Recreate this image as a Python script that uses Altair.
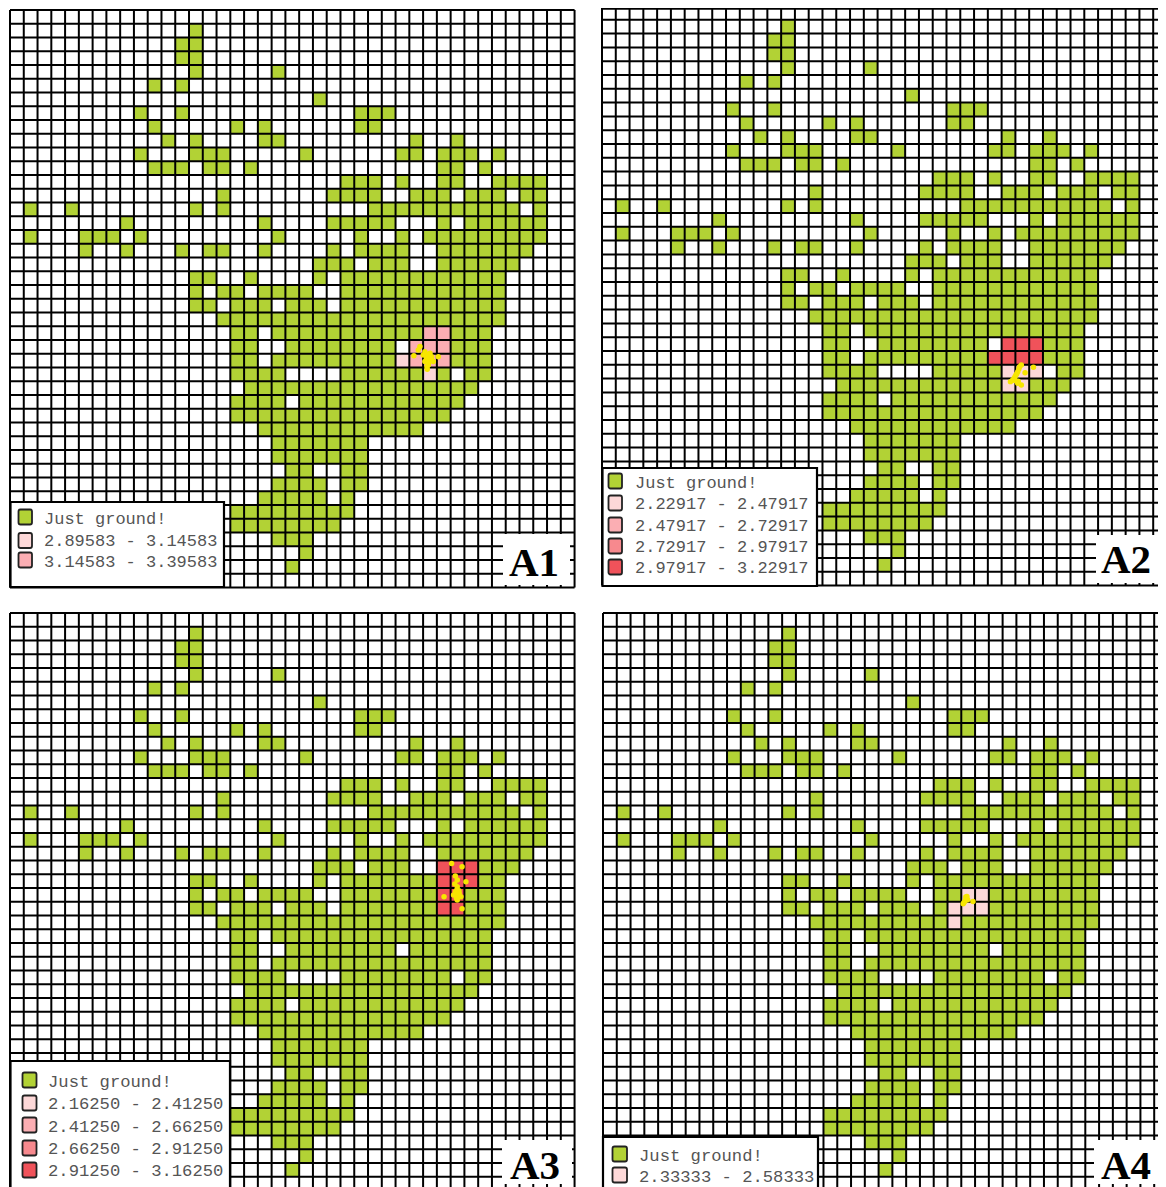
import altair as alt
import pandas as pd

N_COLS = 41
N_ROWS = 42

# Ground cells of the shared base map: (row, [columns])
def span(a, b):
    return list(range(a, b + 1))

GROUND = {
    1: [13], 2: [12, 13], 3: [12, 13], 4: [13, 19], 5: [10, 12], 6: [22],
    7: [9, 12, 25, 26, 27],
    8: [10, 16, 18, 25, 26],
    9: [11, 13, 18, 19, 29, 32],
    10: [9, 13, 14, 15, 21, 28, 29, 31, 32, 33, 35],
    11: [10, 11, 12, 14, 15, 17, 31, 32, 34],
    12: [24, 25, 26, 28, 31, 32, 35, 36, 37, 38],
    13: [15, 23, 24, 25, 26, 29, 30, 31, 33, 34, 35, 37, 38],
    14: [1, 4, 13, 15] + span(26, 36) + [38],
    15: [8, 18] + span(23, 27) + [31] + span(33, 38),
    16: [1, 5, 6, 7, 9, 19, 25, 28] + span(30, 38),
    17: [5, 8, 12, 14, 15, 18, 23] + span(25, 28) + span(31, 37),
    18: [22, 23, 24, 26, 27, 28] + span(31, 36),
    19: [13, 14, 17, 22] + span(24, 35),
    20: [13, 15, 16, 18, 19, 20, 21] + span(24, 35),
    21: [13, 14, 16, 17, 18, 20, 21, 22] + span(24, 35),
    22: span(15, 35),
    23: [16, 17] + span(19, 34),
    24: [16, 17] + span(20, 27) + span(29, 34),
    25: [16, 17] + span(19, 34),
    26: span(16, 19) + span(24, 31) + [33, 34],
    27: span(17, 33),
    28: span(16, 19) + span(21, 32),
    29: span(16, 31),
    30: span(18, 29),
    31: span(19, 25),
    32: span(19, 25),
    33: [20, 21, 24, 25],
    34: span(19, 22) + [24, 25],
    35: span(18, 22) + [24],
    36: span(16, 24),
    37: span(16, 23),
    38: [19, 20, 21],
    39: [21],
    40: [20],
}

# Hot cells per panel: (row, column, class)
HOT_A1 = [(23, 30, 2), (23, 31, 2), (24, 29, 2), (24, 30, 2), (24, 31, 2),
          (25, 28, 1), (25, 29, 2), (25, 30, 2), (25, 31, 2), (26, 30, 1)]
HOT_A2 = [(24, 29, 4), (24, 30, 4), (24, 31, 4), (25, 28, 4), (25, 29, 4), (25, 30, 4),
          (25, 31, 4), (26, 29, 1), (26, 30, 1), (26, 31, 1), (27, 29, 1), (27, 30, 1)]
HOT_A3 = [(18, 31, 4), (18, 32, 4), (18, 33, 4), (19, 31, 4), (19, 32, 4), (19, 33, 4),
          (20, 31, 4), (20, 32, 4), (21, 31, 4), (21, 32, 4)]
HOT_A4 = [(20, 26, 1), (20, 27, 1), (21, 25, 1), (21, 26, 1), (21, 27, 1), (22, 25, 1)]

# Yellow points, in grid units (column, row)
PTS_A1 = [(29.77, 24.48), (29.65, 24.72), (30.13, 24.85), (30.38, 25.09), (30.25, 25.33),
          (30.62, 25.21), (30.13, 25.57), (30.38, 25.81), (30.30, 26.13), (29.33, 25.14),
          (31.10, 25.21), (30.74, 25.57), (30.50, 24.97), (30.01, 25.09), (30.3, 25.5),
          (30.5, 25.3), (30.25, 25.05), (30.4, 25.65), (30.28, 25.95), (30.6, 25.4)]
PTS_A2 = [(30.30, 26.14), (30.17, 26.50), (29.91, 26.98), (29.64, 27.22), (30.17, 27.34),
          (30.43, 27.46), (30.70, 26.57), (31.31, 26.18), (30.04, 26.74), (30.43, 26.01),
          (30.25, 26.3), (30.1, 26.65), (29.98, 26.85), (29.8, 27.1), (30.0, 27.15), (30.2, 27.2)]
PTS_A3 = [(32.07, 18.21), (32.83, 18.45), (32.34, 19.13), (33.11, 19.54), (32.48, 19.42),
          (32.48, 19.90), (32.34, 20.27), (32.62, 20.39), (32.21, 20.51), (31.52, 20.63),
          (32.75, 20.63), (32.48, 20.87), (32.83, 21.51), (32.48, 20.63), (32.3, 19.7),
          (32.45, 20.15), (32.55, 20.6), (32.35, 20.45), (32.6, 20.2), (32.42, 20.75)]
PTS_A4 = [(26.33, 20.66), (26.27, 20.95), (26.14, 21.14), (26.46, 20.85), (26.85, 20.98),
          (26.41, 20.61), (26.2, 21.05), (26.35, 20.8)]

LABELS_A1 = ["Just ground!", "2.89583 - 3.14583", "3.14583 - 3.39583"]
LABELS_A2 = ["Just ground!", "2.22917 - 2.47917", "2.47917 - 2.72917", "2.72917 - 2.97917", "2.97917 - 3.22917"]
LABELS_A3 = ["Just ground!", "2.16250 - 2.41250", "2.41250 - 2.66250", "2.66250 - 2.91250", "2.91250 - 3.16250"]
LABELS_A4 = ["Just ground!", "2.33333 - 2.58333"]

GREEN = "#b2d235"
CLASS_COLORS = [GREEN, "#fdd8d8", "#fbaeb3", "#f7898e", "#f0525a"]
SWATCH_A1 = [GREEN, "#fdd8d8", "#fbaeb3"]
SWATCH_A2 = CLASS_COLORS
SWATCH_A3 = CLASS_COLORS
SWATCH_A4 = [GREEN, "#fdd8d8"]

EMPTY = alt.Data(values=[{}])


def box(x1, y1, x2, y2, fill, **kw):
    return alt.Chart(EMPTY).mark_rect(fill=fill, **kw).encode(
        x=alt.value(x1), x2=alt.value(x2), y=alt.value(y1), y2=alt.value(y2))


def word(text, x, y, **kw):
    return alt.Chart(EMPTY).mark_text(text=text, **kw).encode(x=alt.value(x), y=alt.value(y))


def panel(name, hot, pts, labels, swatches, origin, size, grid, pitch, legend, tag):
    px, py = origin
    w, h = size
    gx, gy = grid
    sx, sy = pitch
    xscale = alt.Scale(domain=[(px - gx) / sx, (px + w - gx) / sx], nice=False, zero=False)
    yscale = alt.Scale(domain=[(py - gy) / sy, (py + h - gy) / sy], nice=False, zero=False, reverse=True)

    cells = {}
    for r, cols in GROUND.items():
        for c in cols:
            cells[(r, c)] = 0
    for r, c, k in hot:
        cells[(r, c)] = k
    df = pd.DataFrame([
        {"c": c, "c2": c + 1, "r": r, "r2": r + 1, "k": str(k)} for (r, c), k in cells.items()])

    rects = alt.Chart(df).mark_rect(clip=True).encode(
        x=alt.X("c:Q", scale=xscale, axis=None),
        x2="c2:Q",
        y=alt.Y("r:Q", scale=yscale, axis=None),
        y2="r2:Q",
        color=alt.Color("k:N", legend=None,
                        scale=alt.Scale(domain=["0", "1", "2", "3", "4"], range=CLASS_COLORS)),
    )

    top = max(0, (py + 0.8 - gy) / sy)
    vdf = pd.DataFrame([{"c": c, "a": 0, "b": N_ROWS} for c in range(N_COLS + 1)])
    hdf = pd.DataFrame([{"r": (top if r == 0 else r), "a": 0, "b": N_COLS} for r in range(N_ROWS + 1)])
    vrules = alt.Chart(vdf).mark_rule(color="#000", strokeWidth=2, clip=True).encode(
        x=alt.X("c:Q", scale=xscale, axis=None),
        y=alt.Y("a:Q", scale=yscale, axis=None), y2="b:Q")
    hrules = alt.Chart(hdf).mark_rule(color="#000", strokeWidth=2, clip=True).encode(
        y=alt.Y("r:Q", scale=yscale, axis=None),
        x=alt.X("a:Q", scale=xscale, axis=None), x2="b:Q")

    pdf = pd.DataFrame(pts, columns=["c", "r"])
    dots = alt.Chart(pdf).mark_circle(color="#f7e600", size=30, opacity=1).encode(
        x=alt.X("c:Q", scale=xscale, axis=None),
        y=alt.Y("r:Q", scale=yscale, axis=None))

    layers = [rects, vrules, hrules, dots]

    # Legend box, swatches and texts, placed in page pixels relative to the panel origin
    bx1, by1, bx2, by2 = legend["box"]
    layers.append(box(bx1 - px, by1 - py, bx2 - px, by2 - py, "white",
                      stroke="#000", strokeWidth=2.2, clip=True))
    sx1, sx2 = legend["swatch_x"]
    for lab, col, yc, ty in zip(labels, swatches, legend["swatch_y"], legend["text_y"]):
        layers.append(box(sx1 - px, yc - 7.5 - py, sx2 - px, yc + 7.5 - py, col,
                          stroke="#222", strokeWidth=1.8, cornerRadius=2))
        layers.append(word(lab, legend["text_x"] - px, ty - py, align="left", baseline="middle",
                           font="Liberation Mono", fontSize=legend["size"], color="#555"))

    # Panel tag
    tx1, ty1, tx2, ty2 = tag["box"]
    layers.append(box(tx1 - px, ty1 - py, tx2 - px, ty2 - py, "white"))
    layers.append(word(name, tag["x"] - px, tag["y"] - py, align="center", baseline="alphabetic",
                       font="Liberation Serif", fontWeight="bold", fontSize=41, color="#000"))

    return alt.layer(*layers).resolve_scale(color="independent").properties(width=w, height=h)


A1 = panel("A1", HOT_A1, PTS_A1, LABELS_A1, SWATCH_A1, (8, 8), (592, 592), (10, 10), (13.77, 13.75),
           dict(box=(10.5, 502, 224, 587), swatch_x=(18.5, 32), swatch_y=[517, 540.5, 560],
                text_x=44, text_y=[519, 541, 562], size=17),
           dict(box=(503, 534, 570, 585), x=534, y=576))
A2 = panel("A2", HOT_A2, PTS_A2, LABELS_A2, SWATCH_A2, (600, 8), (558, 592), (602, 6), (13.78, 13.8),
           dict(box=(602.5, 468, 817, 586), swatch_x=(608.5, 622),
                swatch_y=[481, 503, 525, 546, 567], text_x=635, text_y=[483, 504, 526, 547, 568], size=17),
           dict(box=(1096, 535, 1158, 583), x=1126, y=573))
A3 = panel("A3", HOT_A3, PTS_A3, LABELS_A3, SWATCH_A3, (8, 600), (592, 587), (10, 613), (13.77, 13.75),
           dict(box=(10.5, 1061, 230, 1195), swatch_x=(22.5, 36.5),
                swatch_y=[1080, 1103, 1125, 1148, 1170], text_x=48, text_y=[1082, 1104, 1127, 1149, 1171], size=17.2),
           dict(box=(502, 1140, 572, 1184), x=535, y=1179))
A4 = panel("A4", HOT_A4, PTS_A4, LABELS_A4, SWATCH_A4, (600, 600), (558, 587), (603, 613), (13.78, 13.75),
           dict(box=(603, 1137, 818, 1195), swatch_x=(612.5, 627), swatch_y=[1154, 1175],
                text_x=639, text_y=[1156, 1177], size=17.2),
           dict(box=(1094, 1140, 1158, 1184), x=1126, y=1179))

chart = alt.hconcat(
    alt.vconcat(A1, A3, spacing=0),
    alt.vconcat(A2, A4, spacing=0),
    spacing=0,
).properties(
    padding=0, background="white",
).configure_view(stroke=None).configure_concat(spacing=0)

chart.save("out.html", embed_options={"renderer": "svg", "actions": False})
